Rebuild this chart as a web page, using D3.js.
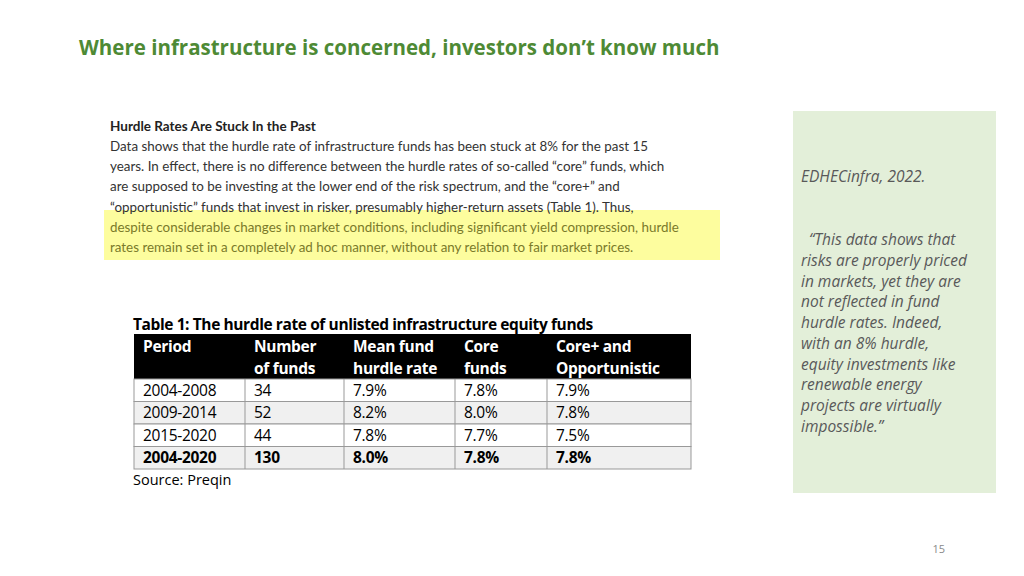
<!DOCTYPE html><html><head><meta charset="utf-8">
<script src="https://cdn.jsdelivr.net/npm/d3@7"></script>
<style>body{margin:0;background:#fff}</style></head><body>
<script>
const headers=[["Period",""],["Number","of funds"],["Mean fund","hurdle rate"],["Core","funds"],["Core+ and","Opportunistic"]];
const periods=["2004-2008","2009-2014","2015-2020","2004-2020"];
const numFunds=[34,52,44,130];
const meanRate=[7.9,8.2,7.8,8.0];
const coreRate=[7.8,8.0,7.7,7.8];
const corePlusRate=[7.9,7.8,7.5,7.8];
const paraLines=["Data shows that the hurdle rate of infrastructure funds has been stuck at 8% for the past 15",
"years. In effect, there is no difference between the hurdle rates of so-called “core” funds, which",
"are supposed to be investing at the lower end of the risk spectrum, and the “core+” and",
"“opportunistic” funds that invest in risker, presumably higher-return assets (Table 1). Thus,",
"despite considerable changes in market conditions, including significant yield compression, hurdle",
"rates remain set in a completely ad hoc manner, without any relation to fair market prices."];
const quoteLines=["“This data shows that","risks are properly priced","in markets, yet they are","not reflected in fund","hurdle rates. Indeed,","with an 8% hurdle,","equity investments like","renewable energy","projects are virtually","impossible.”"];

const svg=d3.select("body").append("svg").attr("width",1024).attr("height",576);
svg.append("text").attr("x",79).attr("y",55).attr("font-family","Open Sans").attr("font-weight","bold").attr("font-size",20.5).attr("fill","#4e8a35").text("Where infrastructure is concerned, investors don’t know much");
// highlight
svg.append("rect").attr("x",104).attr("y",210).attr("width",616).attr("height",50).attr("fill","#fdfd9e");
svg.append("text").attr("x",110).attr("y",131).attr("font-family","Lato").attr("font-weight","bold").attr("font-size",13.5).attr("fill","#222").text("Hurdle Rates Are Stuck In the Past");
const ly=d3.scaleLinear().domain([0,5]).range([151,252]);
paraLines.forEach((l,i)=>svg.append("text").attr("x",110).attr("y",ly(i)).attr("font-family","Lato").attr("font-size",13.4).attr("fill",i>=4?"#7a7a2a":"#333").text(l));
// table
const tf="Open Sans";
svg.append("text").attr("x",133).attr("y",330).attr("font-family",tf).attr("font-weight","bold").attr("font-size",15.5).attr("fill","#000").attr("letter-spacing",-0.4).text("Table 1: The hurdle rate of unlisted infrastructure equity funds");
const colX=[134,245,344,455,547,691];
svg.append("rect").attr("x",134).attr("y",334).attr("width",557).attr("height",45).attr("fill","#000");
headers.forEach((h,i)=>h.forEach((t,j)=>svg.append("text").attr("x",colX[i]+9).attr("y",352+j*22).attr("font-family",tf).attr("font-weight","bold").attr("font-size",15.5).attr("fill","#fff").attr("letter-spacing",-0.3).text(t)));
const ry=d3.scaleBand().domain(d3.range(4)).range([379,469]);
const fmt=d3.format(".1f");
periods.forEach((p,r)=>{
  const y=ry(r),h=ry.bandwidth();
  svg.append("rect").attr("x",134).attr("y",y).attr("width",557).attr("height",h).attr("fill",r%2?"#f0f0f0":"#fff").attr("stroke","#999").attr("stroke-width",1);
  const vals=[p,numFunds[r],fmt(meanRate[r])+"%",fmt(coreRate[r])+"%",fmt(corePlusRate[r])+"%"];
  vals.forEach((v,c)=>{
    if(c>0)svg.append("line").attr("x1",colX[c]).attr("x2",colX[c]).attr("y1",y).attr("y2",y+h).attr("stroke","#999");
    svg.append("text").attr("x",colX[c]+9).attr("y",y+h/2+5.5).attr("font-family",tf).attr("font-size",15.5).attr("letter-spacing",-0.3).attr("font-weight",r==3?"bold":"normal").attr("fill","#000").text(v);
  });
});
svg.append("text").attr("x",133).attr("y",485).attr("font-family",tf).attr("font-size",14.5).attr("fill","#000").text("Source: Preqin");
// right panel
svg.append("rect").attr("x",793).attr("y",111).attr("width",203).attr("height",382).attr("fill","#e3efd9");
const pf="Open Sans";
svg.append("text").attr("x",801).attr("y",182).attr("font-family",pf).attr("font-style","italic").attr("font-size",15.5).attr("fill","#595959").text("EDHECinfra, 2022.");
const qy=d3.scaleLinear().domain([0,9]).range([245,432]);
quoteLines.forEach((l,i)=>svg.append("text").attr("x",i==0?809:801).attr("y",qy(i)).attr("font-family",pf).attr("font-style","italic").attr("font-size",15.5).attr("fill","#595959").text(l));
svg.append("text").attr("x",945).attr("y",553).attr("text-anchor","end").attr("font-family","Open Sans").attr("font-size",11).attr("fill","#8a8a8a").text("15");
</script></body></html>
